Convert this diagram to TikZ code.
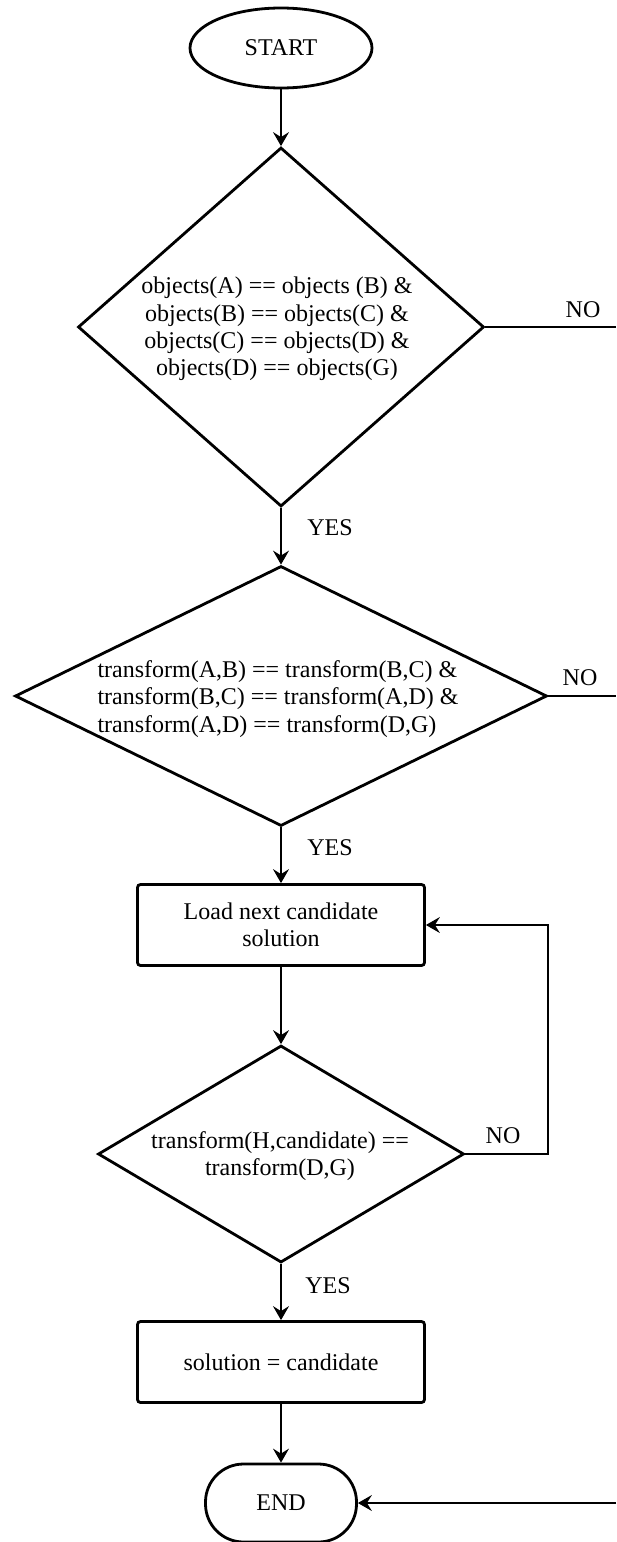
\documentclass[tikz,border=0pt]{standalone}
\usepackage{fontspec}
\setmainfont{Liberation Serif}
\usetikzlibrary{shapes.geometric,arrows.meta}

\begin{document}
\begin{tikzpicture}[x=0.5pt,y=-0.5pt,
    every node/.style={font=\fontsize{12}{13.7}\selectfont},
    term/.style={draw,ellipse,line width=1.4pt,minimum width=91pt,minimum height=40pt,inner sep=0pt},
    stopterm/.style={draw,rectangle,rounded corners=19pt,line width=1.4pt,minimum width=75.5pt,minimum height=39pt},
    decision/.style={draw,diamond,line width=1.4pt,inner sep=0pt},
    proc/.style={draw,rectangle,rounded corners=1.5pt,line width=1.4pt,minimum width=143.5pt,minimum height=40.5pt,align=center},
    cond/.style={inner sep=0pt},
    flow/.style={-{Stealth[length=7pt,width=8pt,inset=2.5pt]},line width=0.7pt},
    wire/.style={line width=0.7pt}
]
            \useasboundingbox (0,0) rectangle (616,1542);

            \node[term] (start) at (281,48) {START};

            \node[decision,minimum width=203pt,minimum height=179.5pt] (d1) at (281,327) {};
            \node[cond,align=center] (t1) at (277,329) {objects(A) == objects (B) \&\\objects(B) == objects(C) \&\\objects(C) == objects(D) \&\\objects(D) == objects(G)};

            \node[decision,minimum width=266pt,minimum height=130pt] (d2) at (281,696) {};
            \node[cond,align=left] (t2) at (278,699) {transform(A,B) == transform(B,C) \&\\transform(B,C) == transform(A,D) \&\\transform(A,D) == transform(D,G)};

            \node[proc] (box1) at (281,925) {Load next candidate\\solution};

            \node[decision,minimum width=183pt,minimum height=108.5pt] (d3) at (281,1154) {};
            \node[cond,align=center] (t3) at (280,1156) {transform(H,candidate) ==\\transform(D,G)};

            \node[proc] (box2) at (281,1362) {solution = candidate};

            \node[stopterm] (stop) at (281,1503) {END};

            % labels
            \node (yes1) at (330,528) {YES};
            \node (yes2) at (330,848) {YES};
            \node (yes3) at (328,1286) {YES};
            \node (no1) at (583,310) {NO};
            \node (no2) at (580,678) {NO};
            \node (no3) at (503,1136) {NO};

            \coordinate (edge1) at (616,327);
            \coordinate (edge2) at (616,696);
            \coordinate (edge3) at (616,1503);
            \coordinate (loop) at (548,1154);

            \draw[flow] (start) -- (d1);
            \draw[flow] (d1) -- (d2);
            \draw[flow] (d2) -- (box1);
            \draw[flow] (box1) -- (d3);
            \draw[flow] (d3) -- (box2);
            \draw[flow] (box2) -- (stop);

            \draw[wire] (d1.east) -- (edge1);
            \draw[wire] (d2.east) -- (edge2);
            \draw[flow] (d3.east) -- (loop) |- (box1.east);
            \draw[flow] (edge3) -- (stop.east);
        \end{tikzpicture}
\end{document}
